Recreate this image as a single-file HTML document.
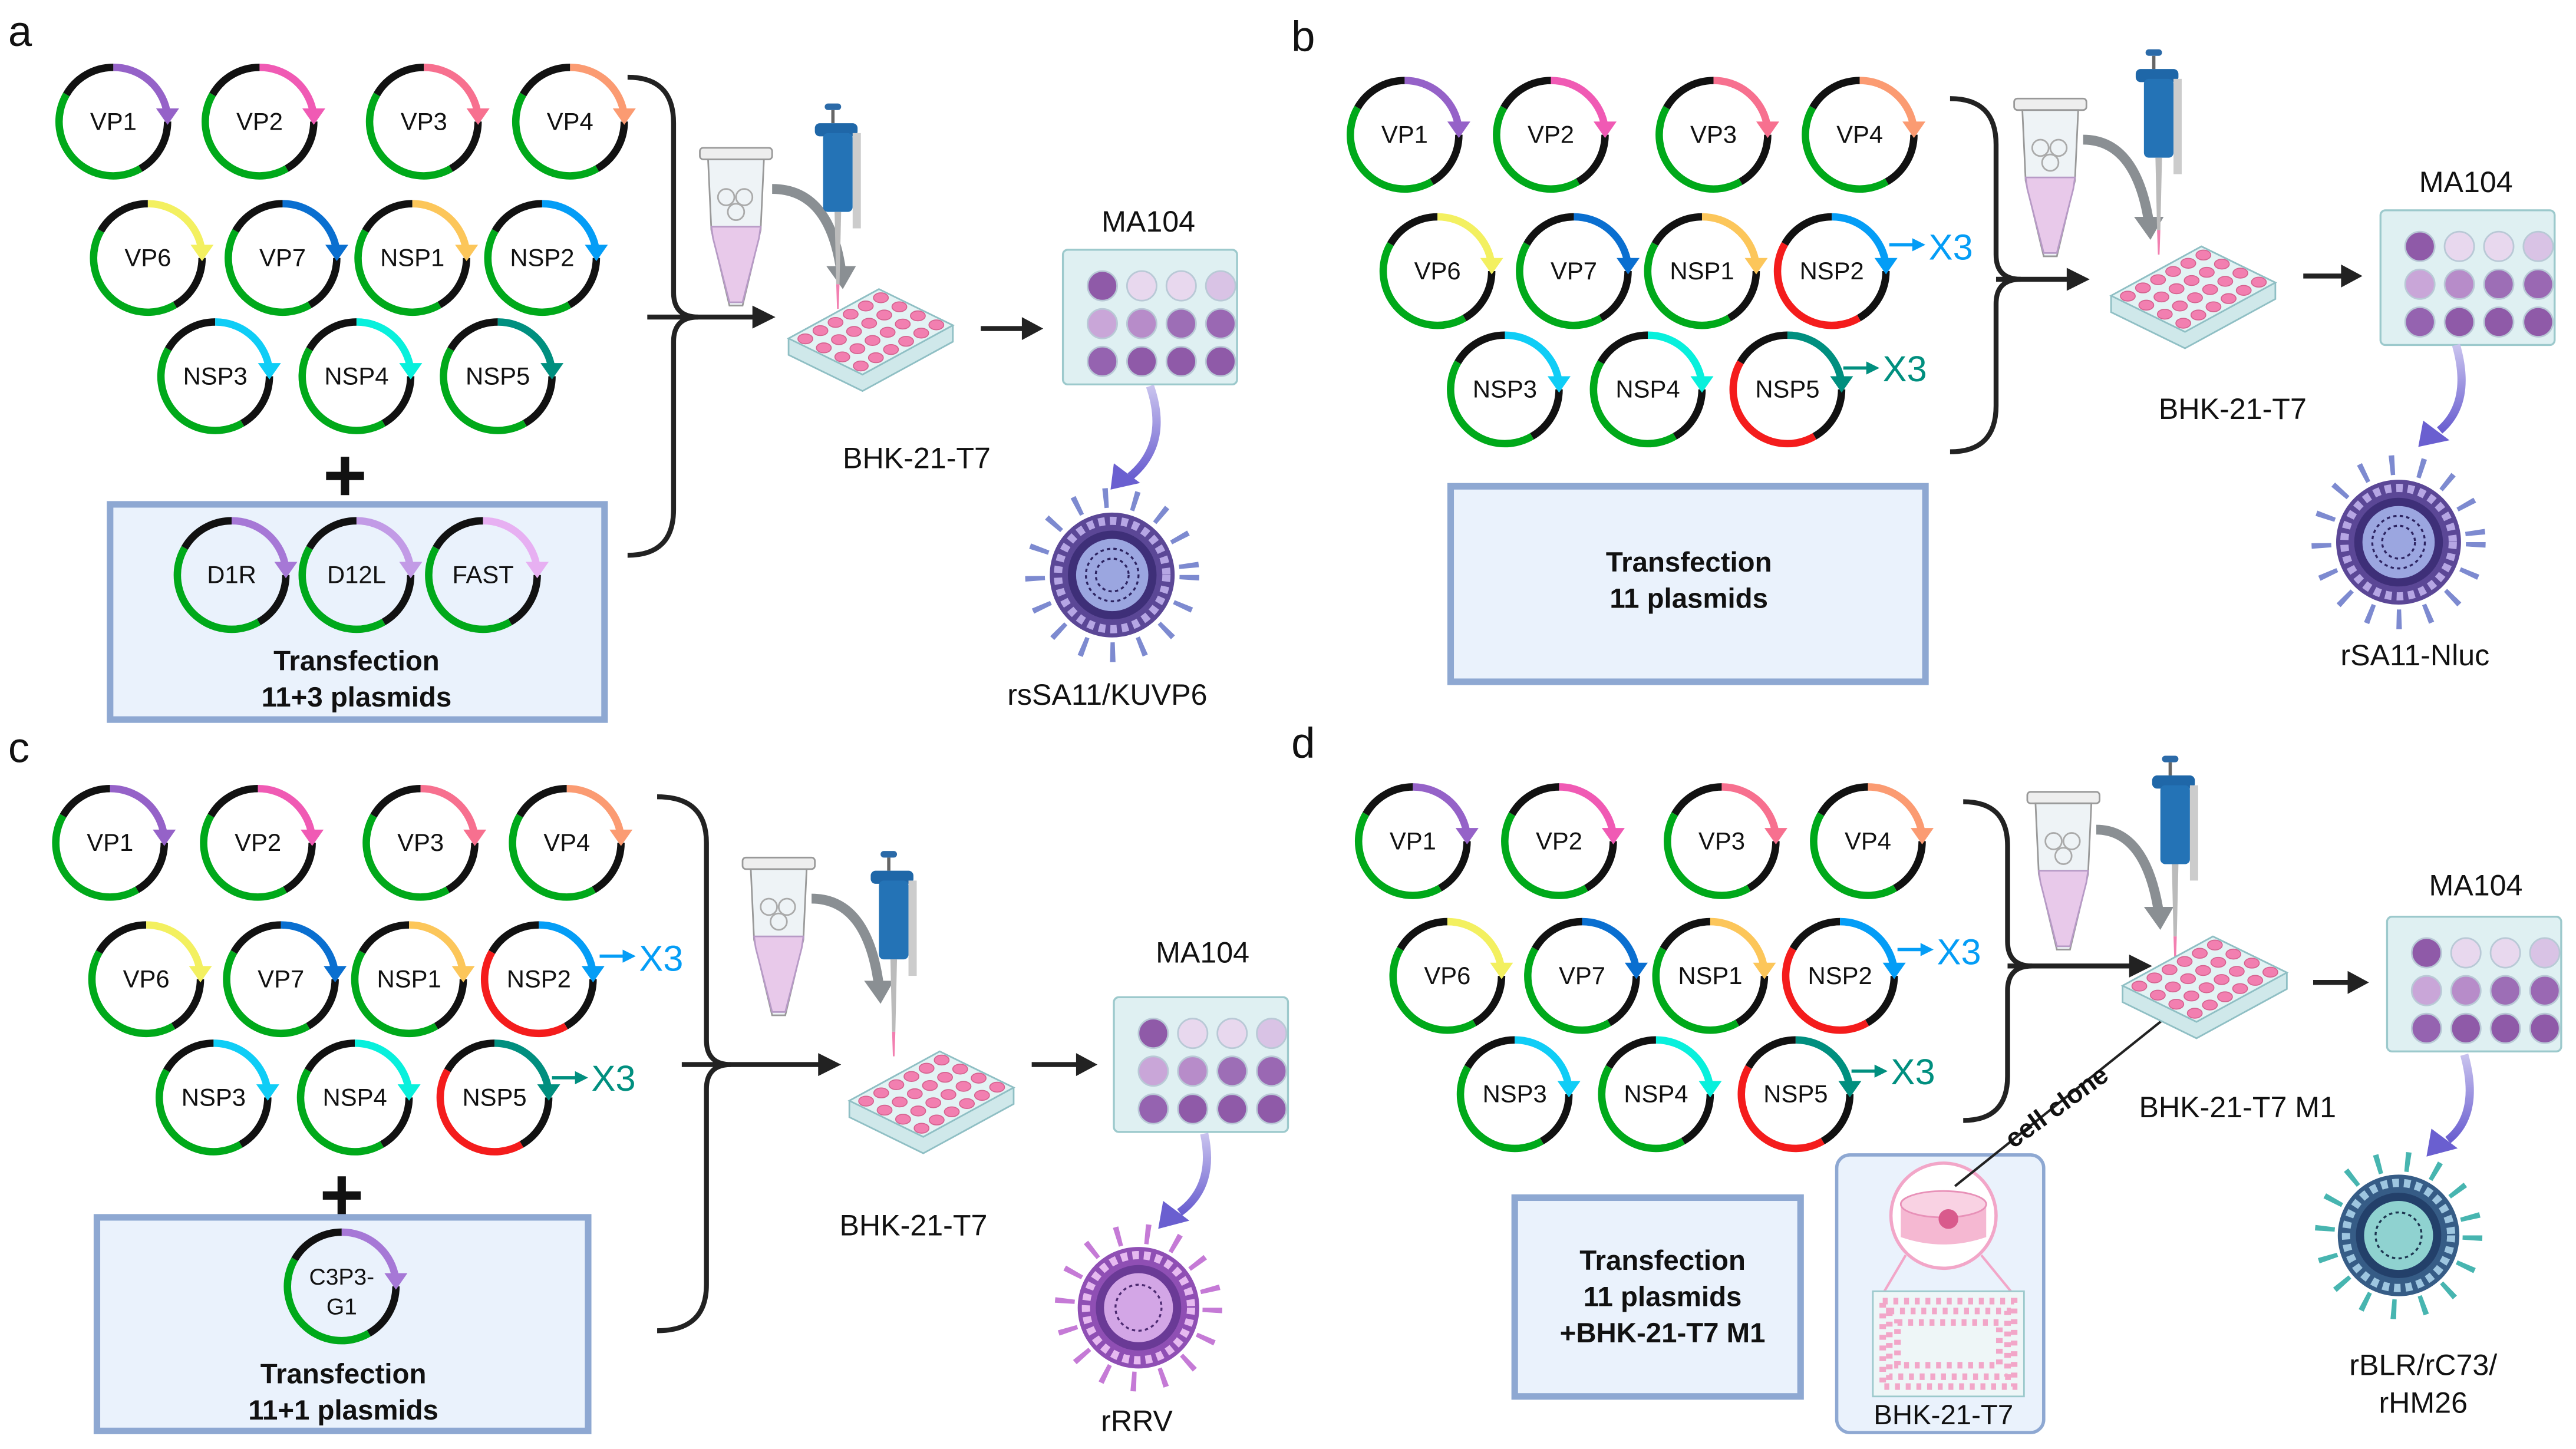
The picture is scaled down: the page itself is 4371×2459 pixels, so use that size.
<!DOCTYPE html>
<html><head><meta charset="utf-8"><style>
html,body{margin:0;padding:0;background:#fff}
svg{display:block}
text{font-family:"Liberation Sans",sans-serif}
</style></head><body>
<svg width="4371" height="2459" viewBox="0 0 1568 882" preserveAspectRatio="none" xmlns="http://www.w3.org/2000/svg" xmlns:xlink="http://www.w3.org/1999/xlink">
<defs>
<g id="ring" fill="none" stroke-width="4.5">
<path d="M33,0 A33,33 0 0 1 16.5,28.6" stroke="#111"/>
<path d="M16.5,28.6 A33,33 0 0 1 -28.6,-16.5" stroke="#00a91a"/>
<path d="M-28.6,-16.5 A33,33 0 0 1 0,-33" stroke="#111"/>
</g>
<g id="ringR" fill="none" stroke-width="4.5">
<path d="M33,0 A33,33 0 0 1 16.5,28.6" stroke="#111"/>
<path d="M16.5,28.6 A33,33 0 0 1 -28.6,-16.5" stroke="#f41c1c"/>
<path d="M-28.6,-16.5 A33,33 0 0 1 0,-33" stroke="#111"/>
</g>
<g id="arc"><path d="M0,-33 A33,33 0 0 1 32.4,-7" fill="none" stroke-width="4.5"/><polygon points="26,-8 40,-8 33,2" stroke="none"/></g>
<linearGradient id="pg" x1="0" y1="0" x2="0" y2="1"><stop offset="0" stop-color="#c9c3ee"/><stop offset="1" stop-color="#6a5fd0"/></linearGradient>
<g id="plate24">
<polygon points="0,30 55,0 100,22 100,32 45,62 0,40" fill="#cfe8ea" stroke="#8fbfc4" stroke-width="1"/>
<polygon points="0,30 55,0 100,22 45,52" fill="#e3f3f4" stroke="#8fbfc4" stroke-width="1"/>
<g fill="#f27fb0" stroke="#d5628f" stroke-width=".6">
<ellipse cx="10.2" cy="30.25" rx="4.5" ry="3"/><ellipse cx="19.4" cy="25.25" rx="4.5" ry="3"/><ellipse cx="28.6" cy="20.25" rx="4.5" ry="3"/><ellipse cx="37.8" cy="15.25" rx="4.5" ry="3"/><ellipse cx="47" cy="10.25" rx="4.5" ry="3"/><ellipse cx="56.2" cy="5.25" rx="4.5" ry="3"/>
<ellipse cx="21.45" cy="35.75" rx="4.5" ry="3"/><ellipse cx="30.65" cy="30.75" rx="4.5" ry="3"/><ellipse cx="39.85" cy="25.75" rx="4.5" ry="3"/><ellipse cx="49.05" cy="20.75" rx="4.5" ry="3"/><ellipse cx="58.25" cy="15.75" rx="4.5" ry="3"/><ellipse cx="67.45" cy="10.75" rx="4.5" ry="3"/>
<ellipse cx="32.7" cy="41.25" rx="4.5" ry="3"/><ellipse cx="41.9" cy="36.25" rx="4.5" ry="3"/><ellipse cx="51.1" cy="31.25" rx="4.5" ry="3"/><ellipse cx="60.3" cy="26.25" rx="4.5" ry="3"/><ellipse cx="69.5" cy="21.25" rx="4.5" ry="3"/><ellipse cx="78.7" cy="16.25" rx="4.5" ry="3"/>
<ellipse cx="43.95" cy="46.75" rx="4.5" ry="3"/><ellipse cx="53.15" cy="41.75" rx="4.5" ry="3"/><ellipse cx="62.35" cy="36.75" rx="4.5" ry="3"/><ellipse cx="71.55" cy="31.75" rx="4.5" ry="3"/><ellipse cx="80.75" cy="26.75" rx="4.5" ry="3"/><ellipse cx="89.95" cy="21.75" rx="4.5" ry="3"/>
</g></g>
<g id="ma">
<rect x="0" y="0" width="106" height="82" rx="3" fill="#dff0f2" stroke="#9cc9cc" stroke-width="1.2"/>
<g stroke="#b9c9d6" stroke-width="1">
<circle cx="24" cy="22" r="9" fill="#8f5aa8"/><circle cx="48" cy="22" r="9" fill="#e8d8ee"/><circle cx="72" cy="22" r="9" fill="#e8d8ee"/><circle cx="96" cy="22" r="9" fill="#d9c3e5"/>
<circle cx="24" cy="45" r="9" fill="#c9a6d8"/><circle cx="48" cy="45" r="9" fill="#b78cc9"/><circle cx="72" cy="45" r="9" fill="#9d6eb6"/><circle cx="96" cy="45" r="9" fill="#9a68b3"/>
<circle cx="24" cy="68" r="9" fill="#9563b0"/><circle cx="48" cy="68" r="9" fill="#8f5aa8"/><circle cx="72" cy="68" r="9" fill="#8f5aa8"/><circle cx="96" cy="68" r="9" fill="#8f5aa8"/>
</g></g>
<g id="tube">
<rect x="-2" y="0" width="44" height="7" rx="2" fill="#eee" stroke="#999"/>
<path d="M3,7 L37,7 L35,50 L24,96 L16,96 L5,50 Z" fill="#eef3f6" stroke="#999"/>
<path d="M5,48 L35,48 L34,55 L24,94 L16,94 L6,55 Z" fill="#e8c9ea" stroke="#b79ac6"/>
<circle cx="14" cy="30" r="5" fill="none" stroke="#aaa"/><circle cx="25" cy="30" r="5" fill="none" stroke="#aaa"/><circle cx="20" cy="39" r="5" fill="none" stroke="#aaa"/>
</g>
<g id="pip">
<rect x="6" y="0" width="10" height="4" rx="2" fill="#2b6aa8"/><rect x="10" y="4" width="2" height="8" fill="#666"/>
<rect x="0" y="12" width="26" height="8" rx="3" fill="#1f67a8"/>
<rect x="5" y="18" width="18" height="48" rx="3" fill="#2473b6"/>
<rect x="23" y="18" width="5" height="58" fill="#ccc"/>
<path d="M12,66 L16,66 L15,110 L13,110 Z" fill="#bbb"/>
<path d="M13,110 L15,110 L14.5,125 L13.5,125 Z" fill="#f27fb0"/>
</g>
<g id="vir1">
<circle r="47" fill="none" stroke="#7d8ad0" stroke-width="12" stroke-dasharray="3 15"/>
<circle r="38" fill="#5b4796"/>
<circle r="33" fill="none" stroke="#b6a6e4" stroke-width="5" stroke-dasharray="4 3"/>
<circle r="27" fill="#3e2f78"/>
<circle r="22" fill="#9ba6e0"/>
<circle r="16" fill="none" stroke="#2c2360" stroke-width="1.2" stroke-dasharray="2 2"/>
<circle r="10" fill="none" stroke="#2c2360" stroke-width="1.2" stroke-dasharray="2 2"/>
</g>
</defs>
<rect width="1568" height="882" fill="#fff"/>
<g font-size="26" fill="#111"><text x="5" y="28">a</text><text x="786" y="31">b</text><text x="5" y="464">c</text><text x="786" y="461">d</text></g>

<!-- ===== PANEL A ===== -->
<g font-size="15" text-anchor="middle" fill="#111">
<g transform="translate(69,74)"><use href="#ring"/><use href="#arc" stroke="#9562c8" fill="#9562c8"/><text y="5">VP1</text></g>
<g transform="translate(158,74)"><use href="#ring"/><use href="#arc" stroke="#f05ab4" fill="#f05ab4"/><text y="5">VP2</text></g>
<g transform="translate(258,74)"><use href="#ring"/><use href="#arc" stroke="#f7708f" fill="#f7708f"/><text y="5">VP3</text></g>
<g transform="translate(347,74)"><use href="#ring"/><use href="#arc" stroke="#fb9b72" fill="#fb9b72"/><text y="5">VP4</text></g>
<g transform="translate(90,157)"><use href="#ring"/><use href="#arc" stroke="#f3f060" fill="#f3f060"/><text y="5">VP6</text></g>
<g transform="translate(172,157)"><use href="#ring"/><use href="#arc" stroke="#0a6fd0" fill="#0a6fd0"/><text y="5">VP7</text></g>
<g transform="translate(251,157)"><use href="#ring"/><use href="#arc" stroke="#fcc65a" fill="#fcc65a"/><text y="5">NSP1</text></g>
<g transform="translate(330,157)"><use href="#ring"/><use href="#arc" stroke="#049df6" fill="#049df6"/><text y="5">NSP2</text></g>
<g transform="translate(131,229)"><use href="#ring"/><use href="#arc" stroke="#0fcdf6" fill="#0fcdf6"/><text y="5">NSP3</text></g>
<g transform="translate(217,229)"><use href="#ring"/><use href="#arc" stroke="#08f0dc" fill="#08f0dc"/><text y="5">NSP4</text></g>
<g transform="translate(303,229)"><use href="#ring"/><use href="#arc" stroke="#008f7f" fill="#008f7f"/><text y="5">NSP5</text></g>
</g>
<text x="210" y="305" font-size="46" font-weight="bold" text-anchor="middle" fill="#111">+</text>
<rect x="67" y="307" width="301" height="131" fill="#eaf2fc" stroke="#8ea8d2" stroke-width="4"/>
<g font-size="15" text-anchor="middle" fill="#111">
<g transform="translate(141,350)"><use href="#ring"/><use href="#arc" stroke="#a678d6" fill="#a678d6"/><text y="5">D1R</text></g>
<g transform="translate(217,350)"><use href="#ring"/><use href="#arc" stroke="#c29be6" fill="#c29be6"/><text y="5">D12L</text></g>
<g transform="translate(294,350)"><use href="#ring"/><use href="#arc" stroke="#e7b0f2" fill="#e7b0f2"/><text y="5">FAST</text></g>
</g>
<g font-size="17" font-weight="bold" text-anchor="middle" fill="#111"><text x="217" y="408">Transfection</text><text x="217" y="430">11+3 plasmids</text></g>
<g fill="none" stroke="#222" stroke-width="3">
<path d="M382,47 Q410,47 410,75 V178 Q410,193 425,193 M382,338 Q410,338 410,310 V208 Q410,193 425,193"/>
<path d="M394,193 H462"/>
</g>
<polygon points="458,186 472,193 458,200" fill="#222"/>
<use href="#tube" x="428" y="90"/>
<path d="M470,115 Q505,115 512,165" fill="none" stroke="#8a8f93" stroke-width="6"/><polygon points="503,162 521,162 513,176" fill="#8a8f93"/>
<use href="#pip" x="496" y="63"/>
<use href="#plate24" x="480" y="176"/>
<text x="558" y="285" font-size="18" text-anchor="middle" fill="#111">BHK-21-T7</text>
<path d="M597,200 H625" stroke="#222" stroke-width="3"/><polygon points="622,193 635,200 622,207" fill="#222"/>
<text x="699" y="141" font-size="18" text-anchor="middle" fill="#111">MA104</text>
<use href="#ma" x="647" y="152"/>
<path d="M700,235 Q712,270 688,290" fill="none" stroke="url(#pg)" stroke-width="5"/><polygon points="678,282 694,294 676,298" fill="#6a5fd0"/>
<use href="#vir1" x="677" y="350"/>
<text x="674" y="429" font-size="18" text-anchor="middle" fill="#111">rsSA11/KUVP6</text>

<!-- ===== PANEL B ===== -->
<g font-size="15" text-anchor="middle" fill="#111">
<g transform="translate(855,82)"><use href="#ring"/><use href="#arc" stroke="#9562c8" fill="#9562c8"/><text y="5">VP1</text></g>
<g transform="translate(944,82)"><use href="#ring"/><use href="#arc" stroke="#f05ab4" fill="#f05ab4"/><text y="5">VP2</text></g>
<g transform="translate(1043,82)"><use href="#ring"/><use href="#arc" stroke="#f7708f" fill="#f7708f"/><text y="5">VP3</text></g>
<g transform="translate(1132,82)"><use href="#ring"/><use href="#arc" stroke="#fb9b72" fill="#fb9b72"/><text y="5">VP4</text></g>
<g transform="translate(875,165)"><use href="#ring"/><use href="#arc" stroke="#f3f060" fill="#f3f060"/><text y="5">VP6</text></g>
<g transform="translate(958,165)"><use href="#ring"/><use href="#arc" stroke="#0a6fd0" fill="#0a6fd0"/><text y="5">VP7</text></g>
<g transform="translate(1036,165)"><use href="#ring"/><use href="#arc" stroke="#fcc65a" fill="#fcc65a"/><text y="5">NSP1</text></g>
<g transform="translate(1115,165)"><use href="#ringR"/><use href="#arc" stroke="#049df6" fill="#049df6"/><text y="5">NSP2</text></g>
<g transform="translate(916,237)"><use href="#ring"/><use href="#arc" stroke="#0fcdf6" fill="#0fcdf6"/><text y="5">NSP3</text></g>
<g transform="translate(1003,237)"><use href="#ring"/><use href="#arc" stroke="#08f0dc" fill="#08f0dc"/><text y="5">NSP4</text></g>
<g transform="translate(1088,237)"><use href="#ringR"/><use href="#arc" stroke="#008f7f" fill="#008f7f"/><text y="5">NSP5</text></g>
</g>
<path d="M1150,149 H1166" stroke="#049df6" stroke-width="2"/><polygon points="1164,145 1172,149 1164,153" fill="#049df6"/><text x="1174" y="158" font-size="22" fill="#049df6">X3</text>
<path d="M1122,224 H1138" stroke="#008f7f" stroke-width="2"/><polygon points="1136,220 1144,224 1136,228" fill="#008f7f"/><text x="1146" y="232" font-size="22" fill="#008f7f">X3</text>
<rect x="883" y="296" width="289" height="119" fill="#eaf2fc" stroke="#8ea8d2" stroke-width="4"/>
<g font-size="17" font-weight="bold" text-anchor="middle" fill="#111"><text x="1028" y="348">Transfection</text><text x="1028" y="370">11 plasmids</text></g>
<g fill="none" stroke="#222" stroke-width="3">
<path d="M1187,60 Q1215,60 1215,88 V155 Q1215,170 1230,170 M1187,275 Q1215,275 1215,247 V185 Q1215,170 1230,170"/>
<path d="M1215,170 H1262"/>
</g>
<polygon points="1258,163 1272,170 1258,177" fill="#222"/>
<use href="#tube" x="1228" y="60"/>
<path d="M1268,85 Q1300,85 1308,135" fill="none" stroke="#8a8f93" stroke-width="6"/><polygon points="1299,132 1317,132 1309,146" fill="#8a8f93"/>
<use href="#pip" x="1300" y="30"/>
<use href="#plate24" x="1285" y="150"/>
<text x="1359" y="255" font-size="18" text-anchor="middle" fill="#111">BHK-21-T7</text>
<path d="M1402,168 H1428" stroke="#222" stroke-width="3"/><polygon points="1425,161 1438,168 1425,175" fill="#222"/>
<text x="1501" y="117" font-size="18" text-anchor="middle" fill="#111">MA104</text>
<use href="#ma" x="1449" y="128"/>
<path d="M1495,210 Q1505,245 1485,262" fill="none" stroke="url(#pg)" stroke-width="5"/><polygon points="1475,256 1491,268 1472,272" fill="#6a5fd0"/>
<use href="#vir1" x="1460" y="330"/>
<text x="1470" y="405" font-size="18" text-anchor="middle" fill="#111">rSA11-Nluc</text>

<!-- ===== PANEL C ===== -->
<g font-size="15" text-anchor="middle" fill="#111">
<g transform="translate(67,513)"><use href="#ring"/><use href="#arc" stroke="#9562c8" fill="#9562c8"/><text y="5">VP1</text></g>
<g transform="translate(157,513)"><use href="#ring"/><use href="#arc" stroke="#f05ab4" fill="#f05ab4"/><text y="5">VP2</text></g>
<g transform="translate(256,513)"><use href="#ring"/><use href="#arc" stroke="#f7708f" fill="#f7708f"/><text y="5">VP3</text></g>
<g transform="translate(345,513)"><use href="#ring"/><use href="#arc" stroke="#fb9b72" fill="#fb9b72"/><text y="5">VP4</text></g>
<g transform="translate(89,596)"><use href="#ring"/><use href="#arc" stroke="#f3f060" fill="#f3f060"/><text y="5">VP6</text></g>
<g transform="translate(171,596)"><use href="#ring"/><use href="#arc" stroke="#0a6fd0" fill="#0a6fd0"/><text y="5">VP7</text></g>
<g transform="translate(249,596)"><use href="#ring"/><use href="#arc" stroke="#fcc65a" fill="#fcc65a"/><text y="5">NSP1</text></g>
<g transform="translate(328,596)"><use href="#ringR"/><use href="#arc" stroke="#049df6" fill="#049df6"/><text y="5">NSP2</text></g>
<g transform="translate(130,668)"><use href="#ring"/><use href="#arc" stroke="#0fcdf6" fill="#0fcdf6"/><text y="5">NSP3</text></g>
<g transform="translate(216,668)"><use href="#ring"/><use href="#arc" stroke="#08f0dc" fill="#08f0dc"/><text y="5">NSP4</text></g>
<g transform="translate(301,668)"><use href="#ringR"/><use href="#arc" stroke="#008f7f" fill="#008f7f"/><text y="5">NSP5</text></g>
</g>
<path d="M365,582 H381" stroke="#049df6" stroke-width="2"/><polygon points="379,578 387,582 379,586" fill="#049df6"/><text x="389" y="591" font-size="22" fill="#049df6">X3</text>
<path d="M336,656 H352" stroke="#008f7f" stroke-width="2"/><polygon points="350,652 358,656 350,660" fill="#008f7f"/><text x="360" y="664" font-size="22" fill="#008f7f">X3</text>
<text x="208" y="743" font-size="46" font-weight="bold" text-anchor="middle" fill="#111">+</text>
<rect x="59" y="741" width="299" height="130" fill="#eaf2fc" stroke="#8ea8d2" stroke-width="4"/>
<g font-size="14" text-anchor="middle" fill="#111">
<g transform="translate(208,783)"><use href="#ring"/><use href="#arc" stroke="#a678d6" fill="#a678d6"/><text y="-1">C3P3-</text><text y="17">G1</text></g>
</g>
<g font-size="17" font-weight="bold" text-anchor="middle" fill="#111"><text x="209" y="842">Transfection</text><text x="209" y="864">11+1 plasmids</text></g>
<g fill="none" stroke="#222" stroke-width="3">
<path d="M400,485 Q430,485 430,513 V633 Q430,648 445,648 M400,810 Q430,810 430,782 V663 Q430,648 445,648"/>
<path d="M415,648 H502"/>
</g>
<polygon points="498,641 512,648 498,655" fill="#222"/>
<use href="#tube" x="454" y="522"/>
<path d="M494,547 Q528,547 535,600" fill="none" stroke="#8a8f93" stroke-width="6"/><polygon points="526,597 544,597 536,611" fill="#8a8f93"/>
<use href="#pip" x="530" y="518"/>
<use href="#plate24" x="517" y="640"/>
<text x="556" y="752" font-size="18" text-anchor="middle" fill="#111">BHK-21-T7</text>
<path d="M628,648 H658" stroke="#222" stroke-width="3"/><polygon points="655,641 668,648 655,655" fill="#222"/>
<text x="732" y="586" font-size="18" text-anchor="middle" fill="#111">MA104</text>
<use href="#ma" x="678" y="607"/>
<path d="M733,690 Q740,722 718,738" fill="none" stroke="url(#pg)" stroke-width="5"/><polygon points="708,731 724,743 705,748" fill="#6a5fd0"/>
<g transform="translate(693,796)">
<circle r="45" fill="none" stroke="#c57ad6" stroke-width="12" stroke-dasharray="3 15"/>
<circle r="37" fill="#8f4fb4"/><circle r="32" fill="none" stroke="#e6b9f0" stroke-width="5" stroke-dasharray="4 3"/>
<circle r="26" fill="#6a3a96"/><circle r="21" fill="#d3a6e6"/><circle r="14" fill="none" stroke="#4c2a70" stroke-width="1.2" stroke-dasharray="2 2"/>
</g>
<text x="692" y="871" font-size="18" text-anchor="middle" fill="#111">rRRV</text>

<!-- ===== PANEL D ===== -->
<g font-size="15" text-anchor="middle" fill="#111">
<g transform="translate(860,512)"><use href="#ring"/><use href="#arc" stroke="#9562c8" fill="#9562c8"/><text y="5">VP1</text></g>
<g transform="translate(949,512)"><use href="#ring"/><use href="#arc" stroke="#f05ab4" fill="#f05ab4"/><text y="5">VP2</text></g>
<g transform="translate(1048,512)"><use href="#ring"/><use href="#arc" stroke="#f7708f" fill="#f7708f"/><text y="5">VP3</text></g>
<g transform="translate(1137,512)"><use href="#ring"/><use href="#arc" stroke="#fb9b72" fill="#fb9b72"/><text y="5">VP4</text></g>
<g transform="translate(881,594)"><use href="#ring"/><use href="#arc" stroke="#f3f060" fill="#f3f060"/><text y="5">VP6</text></g>
<g transform="translate(963,594)"><use href="#ring"/><use href="#arc" stroke="#0a6fd0" fill="#0a6fd0"/><text y="5">VP7</text></g>
<g transform="translate(1041,594)"><use href="#ring"/><use href="#arc" stroke="#fcc65a" fill="#fcc65a"/><text y="5">NSP1</text></g>
<g transform="translate(1120,594)"><use href="#ringR"/><use href="#arc" stroke="#049df6" fill="#049df6"/><text y="5">NSP2</text></g>
<g transform="translate(922,666)"><use href="#ring"/><use href="#arc" stroke="#0fcdf6" fill="#0fcdf6"/><text y="5">NSP3</text></g>
<g transform="translate(1008,666)"><use href="#ring"/><use href="#arc" stroke="#08f0dc" fill="#08f0dc"/><text y="5">NSP4</text></g>
<g transform="translate(1093,666)"><use href="#ringR"/><use href="#arc" stroke="#008f7f" fill="#008f7f"/><text y="5">NSP5</text></g>
</g>
<path d="M1155,578 H1171" stroke="#049df6" stroke-width="2"/><polygon points="1169,574 1177,578 1169,582" fill="#049df6"/><text x="1179" y="587" font-size="22" fill="#049df6">X3</text>
<path d="M1127,652 H1143" stroke="#008f7f" stroke-width="2"/><polygon points="1141,648 1149,652 1141,656" fill="#008f7f"/><text x="1151" y="660" font-size="22" fill="#008f7f">X3</text>
<rect x="922" y="729" width="174" height="121" fill="#eaf2fc" stroke="#8ea8d2" stroke-width="4"/>
<g font-size="17" font-weight="bold" text-anchor="middle" fill="#111"><text x="1012" y="773">Transfection</text><text x="1012" y="795">11 plasmids</text><text x="1012" y="817">+BHK-21-T7 M1</text></g>
<g fill="none" stroke="#222" stroke-width="3">
<path d="M1195,488 Q1222,488 1222,515 V573 Q1222,588 1237,588 M1195,682 Q1222,682 1222,655 V603 Q1222,588 1237,588"/>
<path d="M1222,588 H1300"/>
</g>
<polygon points="1296,581 1310,588 1296,595" fill="#222"/>
<rect x="1118" y="703" width="126" height="169" rx="8" fill="#eaf2fc" stroke="#8ea8d2" stroke-width="2"/>
<circle cx="1183" cy="740" r="32" fill="#fff" stroke="#f2a6c8" stroke-width="2"/>
<path d="M1157,733 L1209,733 L1209,753 Q1183,762 1157,753 Z" fill="#f5b8d2"/>
<ellipse cx="1183" cy="733" rx="26" ry="8" fill="#f9d2e3" stroke="#e891b8"/>
<circle cx="1186" cy="742" r="6" fill="#d95a8c"/>
<path d="M1160,764 L1147,786 M1206,764 L1224,786" stroke="#f2a6c8" stroke-width="1.5"/>
<rect x="1140" y="786" width="92" height="64" fill="#eef6f7" stroke="#9cc9cc"/>
<rect x="1146" y="792" width="80" height="52" fill="none" stroke="#f2a6c8" stroke-width="4" stroke-dasharray="3 3.5"/>
<rect x="1150" y="798" width="72" height="40" fill="none" stroke="#f2a6c8" stroke-width="4" stroke-dasharray="3 3.5"/>
<rect x="1155" y="805" width="62" height="26" fill="none" stroke="#f2a6c8" stroke-width="4" stroke-dasharray="3 3.5"/>
<text x="1183" y="867" font-size="17" text-anchor="middle" fill="#111">BHK-21-T7</text>
<path d="M1190,722 L1330,610" stroke="#222" stroke-width="1.5"/><polygon points="1325,609 1339,603 1331,616" fill="#222"/>
<text x="1255" y="678" font-size="16" font-weight="bold" text-anchor="middle" fill="#111" transform="rotate(-36 1255 678)">cell clone</text>
<use href="#tube" x="1236" y="482"/>
<path d="M1276,505 Q1306,505 1314,555" fill="none" stroke="#8a8f93" stroke-width="6"/><polygon points="1305,552 1323,552 1315,566" fill="#8a8f93"/>
<use href="#pip" x="1310" y="460"/>
<use href="#plate24" x="1292" y="570"/>
<text x="1362" y="680" font-size="18" text-anchor="middle" fill="#111">BHK-21-T7 M1</text>
<path d="M1408,598 H1432" stroke="#222" stroke-width="3"/><polygon points="1429,591 1442,598 1429,605" fill="#222"/>
<text x="1507" y="545" font-size="18" text-anchor="middle" fill="#111">MA104</text>
<use href="#ma" x="1453" y="558"/>
<path d="M1500,642 Q1510,678 1490,694" fill="none" stroke="url(#pg)" stroke-width="5"/><polygon points="1480,687 1496,699 1477,704" fill="#6a5fd0"/>
<g transform="translate(1460,752)">
<circle r="45" fill="none" stroke="#47b5b0" stroke-width="12" stroke-dasharray="3 15"/>
<circle r="37" fill="#365c86"/><circle r="32" fill="none" stroke="#9ec6e0" stroke-width="5" stroke-dasharray="4 3"/>
<circle r="26" fill="#23406a"/><circle r="21" fill="#8fd2d0"/><circle r="14" fill="none" stroke="#1d3550" stroke-width="1.2" stroke-dasharray="2 2"/>
</g>
<g font-size="18" text-anchor="middle" fill="#111"><text x="1475" y="837">rBLR/rC73/</text><text x="1475" y="860">rHM26</text></g>
</svg>
</body></html>
